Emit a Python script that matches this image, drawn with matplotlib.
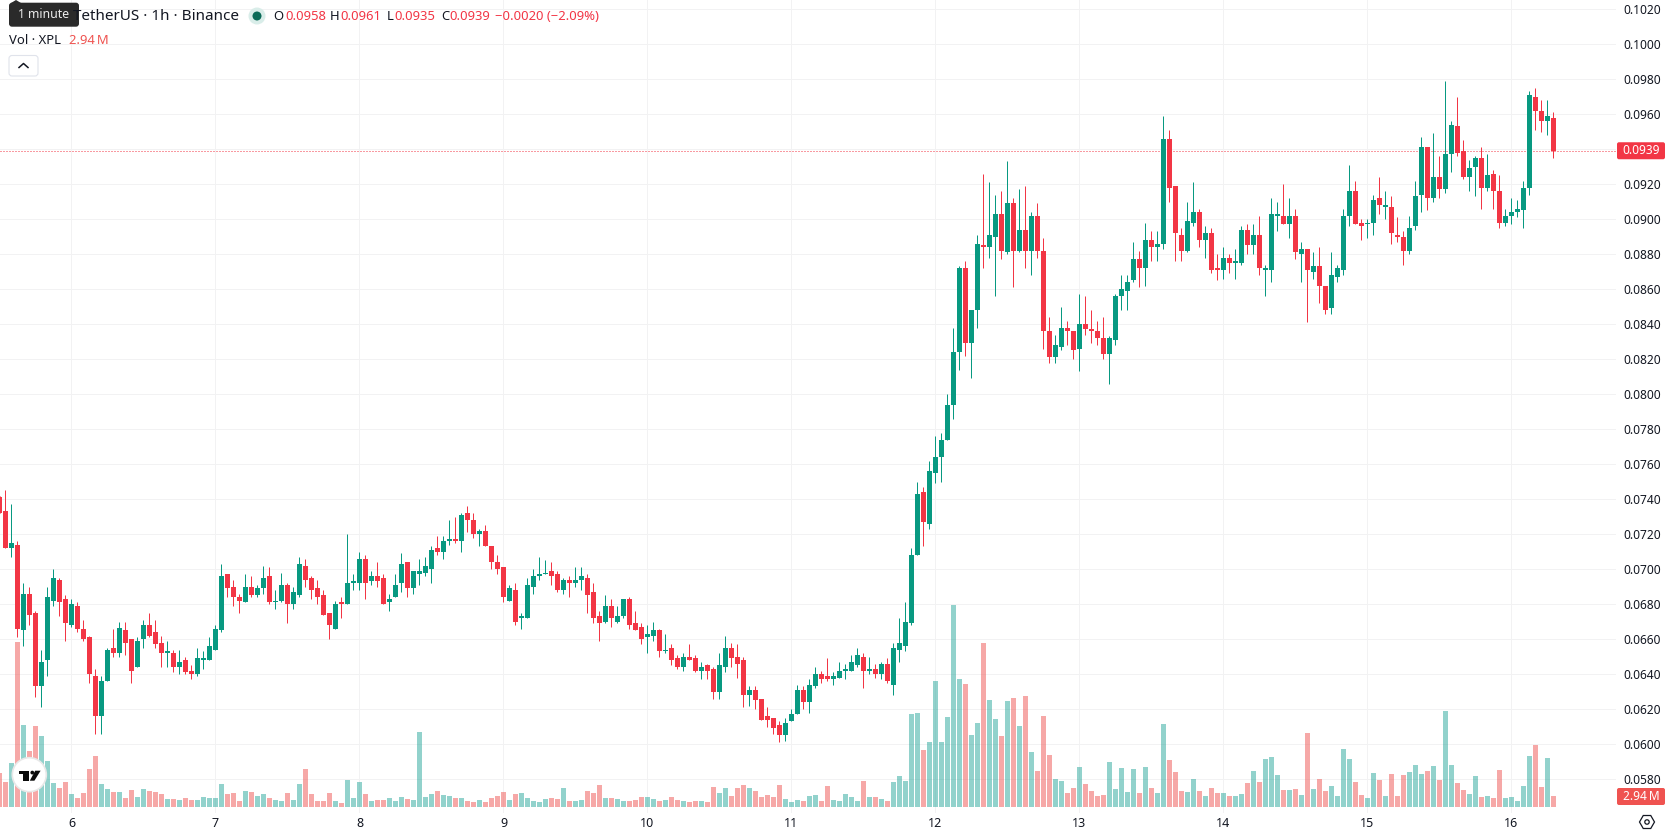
import numpy as np
import matplotlib
matplotlib.use("Agg")
import matplotlib.pyplot as plt
from matplotlib.patches import Circle, FancyBboxPatch, Polygon

# hourly XPL/USDT candles, prices in 1e-4 USDT
opens = [741,733,712,714,665,686,675,633,648,682,694,683,668,679,666,661,639,616,636,655,
         652,665,660,644,660,668,664,658,652,652,644,648,642,640,648,648,654,665,697,690,
         684,681,690,685,689,696,681,682,691,680,685,702,695,689,685,675,666,681,680,692,
         692,706,693,696,695,681,684,692,704,689,697,698,700,712,710,716,717,716,732,728,
         720,722,713,704,701,682,688,672,672,690,696,697,699,697,688,694,692,694,695,687,
         673,670,679,670,673,683,669,667,661,662,665,653,655,649,644,650,649,642,645,643,
         630,644,655,650,648,628,631,626,616,615,611,605,613,617,631,624,633,640,639,637,
         638,642,642,645,650,642,643,640,646,634,654,656,669,708,744,726,755,764,774,794,
         824,872,829,848,885,884,890,903,881,909,882,894,882,902,882,836,821,827,838,836,
         826,840,837,836,832,823,831,856,859,865,877,872,888,884,886,946,919,891,882,898,
         904,888,892,872,871,878,875,875,894,885,891,871,871,902,902,897,902,880,883,870,
         873,862,849,867,871,902,916,898,897,898,912,907,907,891,890,882,896,914,941,912,
         924,917,937,953,939,924,930,935,918,926,916,898,902,904,905,918,970,962,956,958]
highs = [742,745,737,716,692,690,676,654,690,700,695,685,683,681,671,662,643,639,655,666,
         670,670,660,661,671,675,671,662,659,654,654,650,645,655,653,661,668,703,697,694,
         686,697,696,691,702,701,688,698,692,690,707,706,696,694,688,675,682,684,720,697,
         710,708,699,704,697,686,697,709,704,699,706,707,713,719,719,728,730,732,736,732,
         723,725,713,708,701,691,692,675,695,700,707,705,704,699,695,696,701,701,697,692,
         676,685,683,679,683,684,676,669,668,670,666,663,657,651,652,657,651,647,646,644,
         652,662,658,657,650,633,633,626,621,615,613,615,620,634,633,637,644,642,649,641,
         647,646,651,655,652,650,646,647,649,658,672,681,712,750,747,762,776,778,800,838,
         873,876,848,891,926,921,914,916,933,912,917,919,904,909,889,844,834,850,842,836,
         857,856,848,842,844,833,857,868,868,887,882,898,893,893,959,951,919,895,910,921,
         906,896,895,880,884,880,883,896,897,897,902,874,912,910,920,912,906,887,883,881,
         884,862,881,874,906,931,922,900,900,914,924,916,913,901,893,902,922,947,941,949,
         936,979,956,970,945,934,936,941,937,928,925,906,912,911,922,973,975,968,968,961]
lows = [732,712,707,661,656,668,627,621,639,679,673,659,667,664,659,635,606,606,636,650,
        650,651,635,644,655,661,655,644,644,641,640,640,637,639,643,648,654,664,684,679,
        675,681,684,684,686,680,677,681,669,677,684,690,683,680,674,660,666,672,680,688,
        688,683,691,690,680,676,684,687,684,686,691,696,692,708,706,714,715,710,721,718,
        713,713,700,697,681,682,668,666,672,686,694,697,691,687,686,684,690,688,675,669,
        659,669,667,669,672,666,665,657,652,659,650,652,645,643,642,648,641,637,637,626,
        626,641,644,638,621,622,620,614,610,606,601,602,613,617,620,618,632,635,636,634,
        638,637,642,644,632,640,638,637,635,628,647,653,668,708,713,723,749,750,774,786,
        814,822,809,838,872,878,856,877,880,861,881,872,868,878,826,818,818,825,828,820,
        813,834,829,828,820,806,828,848,848,864,861,862,876,876,883,910,876,876,881,896,
        884,878,869,865,866,869,866,874,880,880,868,856,864,893,897,889,877,864,841,866,
        852,846,846,864,868,896,897,888,889,891,903,900,886,887,874,880,894,904,905,910,
        912,915,927,936,923,916,913,906,916,906,895,896,897,901,895,914,951,950,948,935]
closes = [732,712,715,666,686,674,633,647,684,695,681,669,680,666,660,640,616,636,654,652,
          666,658,642,659,668,662,657,652,653,644,647,641,640,649,649,656,666,696,689,684,
          682,690,685,689,695,681,682,691,680,687,703,694,688,684,674,668,680,680,692,693,
          706,692,696,693,680,683,691,703,689,699,699,702,711,710,716,717,716,731,728,720,
          722,713,704,700,684,689,670,673,691,696,697,698,696,688,694,692,694,696,685,672,
          669,679,672,673,683,668,665,660,663,665,653,654,648,644,650,648,642,644,642,630,
          645,655,649,646,628,631,625,614,614,609,605,612,617,631,624,634,640,637,637,639,
          642,643,647,651,642,643,640,646,636,655,658,670,708,743,727,756,764,774,794,824,
          872,829,848,886,884,891,903,882,909,882,894,882,902,882,836,821,828,838,836,825,
          840,837,836,832,823,832,856,860,864,877,872,888,884,886,946,918,892,882,899,904,
          888,892,871,871,878,875,876,894,885,891,872,872,903,903,897,902,881,883,871,873,
          862,848,868,872,902,916,897,896,898,911,908,908,892,890,882,895,913,941,912,924,
          917,937,954,938,924,929,935,918,925,916,898,902,904,906,918,971,962,956,959,939]

# volume per candle, millions of XPL
volumes = [9.1,6.7,11.8,44.1,21.9,15.0,21.7,19.0,12.3,6.4,
           5.1,6.7,3.5,2.4,3.7,10.2,13.6,6.1,4.8,4.0,
           4.0,2.4,4.5,2.7,4.8,4.3,4.0,3.5,2.1,2.1,
           1.9,2.4,1.9,1.9,2.7,2.4,2.4,6.1,3.5,3.7,
           1.6,4.3,4.0,2.9,3.5,2.4,1.9,1.6,3.7,1.9,
           6.1,10.2,3.5,1.6,1.6,3.7,1.6,1.1,7.2,2.4,
           6.7,3.5,1.6,1.9,1.9,2.4,1.6,2.7,2.1,1.9,
           20.1,2.7,3.5,4.3,3.2,2.9,2.4,2.4,1.6,1.3,
           1.9,1.3,2.4,2.9,4.0,1.9,3.5,3.7,2.4,1.6,
           1.3,2.1,2.4,2.1,5.1,1.6,1.6,1.9,4.3,3.7,
           5.9,2.4,2.4,2.1,1.6,1.6,1.9,2.7,2.7,2.1,
           1.6,1.9,2.7,1.9,1.6,1.3,1.6,1.6,1.3,5.3,
           3.7,5.1,2.9,5.1,5.9,5.1,4.3,2.7,3.2,2.7,
           5.9,2.1,1.3,1.9,1.6,2.9,3.2,1.6,5.6,1.9,
           1.6,3.5,2.7,1.6,7.0,2.7,2.7,2.1,1.6,6.7,
           8.3,7.0,24.9,25.1,15.2,17.4,33.7,17.4,24.1,54.0,
           34.2,32.9,19.3,22.5,43.9,28.6,23.5,19.0,28.3,29.1,
           21.7,29.7,14.7,9.6,24.3,13.9,7.5,7.0,3.7,5.1,
           10.7,6.1,4.3,2.9,3.2,12.0,4.8,10.4,4.0,10.2,
           3.7,10.7,5.1,3.7,22.2,12.6,9.4,4.3,4.0,7.5,
           4.3,2.9,5.1,3.7,3.7,2.9,2.9,3.5,6.4,9.6,
           6.7,12.8,13.4,8.6,4.5,4.5,4.8,3.2,19.8,4.8,
           7.5,4.3,5.6,2.9,15.5,12.8,6.7,3.2,2.4,9.1,
           7.2,2.9,8.8,2.9,8.6,9.4,11.2,8.8,9.6,11.0,
           7.2,25.7,11.2,6.4,4.5,3.5,8.3,2.7,2.9,2.4,
           9.9,2.4,2.7,1.6,5.6,13.6,16.6,5.3,13.1,2.94]

# the first candle is 12:00 on the 5th, so each day starts 24 candles apart
day_labels = ["6", "7", "8", "9", "10", "11", "12", "13", "14", "15", "16"]
bold_days = ["8", "15"]
price_ticks = [0.0580, 0.0600, 0.0620, 0.0640, 0.0660, 0.0680, 0.0700, 0.0720, 0.0740, 0.0760, 0.0780,
               0.0800, 0.0820, 0.0840, 0.0860, 0.0880, 0.0900, 0.0920, 0.0940, 0.0960, 0.0980, 0.1000, 0.1020]

GREEN = "#089981"
RED = "#F23645"
VOL_GREEN = "#26a69a"
VOL_RED = "#ef5350"
GRID = "#f2f2f3"
INK = "#131722"
FONT = "Noto Sans"

WIDTH, HEIGHT = 1678, 835
PANE_W, PANE_H = 1616, 813
PX_PER_PRICE = 17500.0   # pane pixels per 1 USDT
PX_PER_MILLION = 3.74    # pane pixels per 1M volume
VOL_BASE_Y = 807

plt.rcParams["font.family"] = [FONT, "DejaVu Sans"]

o = np.array(opens) / 10000
h = np.array(highs) / 10000
l = np.array(lows) / 10000
c = np.array(closes) / 10000
v = np.array(volumes)
idx = np.arange(len(o))
up = c >= o

fig = plt.figure(figsize=(WIDTH / 100, HEIGHT / 100), dpi=100)
ax = fig.add_axes([0, (HEIGHT - PANE_H) / HEIGHT, PANE_W / WIDTH, PANE_H / HEIGHT])

# price axes
ax.set_xlim(0.5 / 6, (PANE_W + 0.5) / 6)
ax.set_ylim(0.1 - (PANE_H - 44) / PX_PER_PRICE, 0.1 + 44 / PX_PER_PRICE)
for s in ax.spines.values():
  s.set_visible(False)
ax.set_axisbelow(True)
ax.grid(True, color=GRID, linewidth=0.72)

# last price line goes behind the candles
ax.axhline(c[-1], color=RED, linewidth=0.72, linestyle=(0, (1, 2)), zorder=1.5)

# wicks and bodies, a doji still gets one pixel of body
colors = [GREEN if u else RED for u in up]
wicks = ax.vlines(idx, l, h, colors=colors, linewidth=0.72, zorder=2)
wicks.set_snap(True)
body_low = np.minimum(o, c)
body_high = np.maximum(o, c)
body_h = np.maximum(body_high - body_low, 1 / PX_PER_PRICE)
ax.bar(idx, body_h, bottom=body_low, width=5 / 6, color=colors, linewidth=0, zorder=3)

# volume sits on its own scale along the bottom of the pane
ax_vol = ax.twinx()
ax_vol.set_ylim((VOL_BASE_Y - PANE_H) / PX_PER_MILLION, VOL_BASE_Y / PX_PER_MILLION)
ax_vol.axis("off")
vol_colors = [VOL_GREEN if u else VOL_RED for u in up]
ax_vol.bar(idx, v, width=5 / 6, color=vol_colors, alpha=0.5, linewidth=0)

# twinx moves the price ticks to the left, so set them up after it
day_pos = [12 + 24 * i for i in range(len(day_labels))]
ax.set_xticks(day_pos)
ax.set_xticklabels(day_labels, fontsize=9, color=INK)
for t, name in zip(ax.get_xticklabels(), day_labels):
  if name in bold_days:
    t.set_fontweight("bold")
ax.set_yticks(price_ticks)
ax.set_yticklabels(["%.4f" % p for p in price_ticks], fontsize=8.6, color=INK)
ax.yaxis.tick_right()
ax.tick_params(axis="both", length=0)
ax.tick_params(axis="x", pad=3)
ax.tick_params(axis="y", pad=5.5)

# header, badges and logo are laid out in screen pixels
ui = fig.add_axes([0, 0, 1, 1], zorder=10)
ui.set_xlim(0, WIDTH)
ui.set_ylim(HEIGHT, 0)
ui.axis("off")


def box(x0, y0, x1, y1, face, edge="none", r=2.0, lw=0):
  ui.add_patch(FancyBboxPatch((x0 + r, y0 + r), x1 - x0 - 2 * r, y1 - y0 - 2 * r,
                              boxstyle="round,pad=%f,rounding_size=%f" % (r, r),
                              facecolor=face, edgecolor=edge, linewidth=lw))


# title row
ui.text(239, 16, "TetherUS \u00b7 1h \u00b7 Binance", fontsize=11.0, color=INK, ha="right", va="center")
ui.add_patch(Circle((257, 16), 8.5, facecolor="#d9ede9", edgecolor="none"))
ui.add_patch(Circle((257, 16), 4.5, facecolor="#0b6b58", edgecolor="none"))

# the change is measured against the previous close
change = c[-1] - c[-2]
pct = change / c[-2] * 100
text_y = 16
for x, letter in [(273, "O"), (330, "H"), (387, "L"), (441, "C")]:
  ui.text(x, text_y, letter, fontsize=9.4, color=INK, ha="left", va="center")
ui.text(285, text_y, "%.4f" % o[-1], fontsize=9.4, color=RED, va="center")
ui.text(340, text_y, "%.4f" % h[-1], fontsize=9.4, color=RED, va="center")
ui.text(394, text_y, "%.4f" % l[-1], fontsize=9.4, color=RED, va="center")
ui.text(449, text_y, "%.4f" % c[-1], fontsize=9.4, color=RED, va="center")
ui.text(495, text_y, "\u2212%.4f (\u2212%.2f%%)" % (abs(change), abs(pct)), fontsize=9.4, color=RED, va="center")

# volume row
ui.text(9, 40.5, "Vol \u00b7 XPL", fontsize=9.4, color=INK, va="center")
ui.text(69, 40.5, "%.2f\u2009M" % v[-1], fontsize=9.4, color=VOL_RED, va="center")

# collapse button
box(9, 55.5, 38, 76, "white", edge="#e0e3eb", r=3, lw=0.8)
ui.plot([19, 23.5, 28], [67.5, 63.5, 67.5], color=INK, linewidth=1.1)

# hover tooltip over the title
ui.add_patch(Polygon([[11, 3], [16, 0], [21, 3]], facecolor="#2a2a2a", edgecolor="none"))
box(9, 2.7, 79, 26.7, "#2a2a2a", r=3)
ui.text(43.5, 15, "1 minute", fontsize=8.8, color="#ececec", ha="center", va="center")

# badges on the price scale
py = 44 + (0.1 - c[-1]) * PX_PER_PRICE
box(1617, py - 8.5, 1665, py + 8.5, RED, r=2)
ui.text(1641, py, "%.4f" % c[-1], fontsize=8.6, color="white", ha="center", va="center")
box(1617, 788, 1665, 805, VOL_RED, r=2)
ui.text(1641, 796.5, "%.2f\u2009M" % v[-1], fontsize=8.6, color="white", ha="center", va="center")

# logo
ui.add_patch(Circle((29.3, 774.7), 17, facecolor="white", edgecolor="#e8e8e8", linewidth=1.2))
ui.add_patch(Polygon([[19, 770.7], [29.3, 770.7], [29.3, 780.7], [23.3, 780.7], [23.3, 774.2], [19, 774.2]],
                     facecolor="#0a0a0a", edgecolor="none"))
ui.add_patch(Circle((32.3, 772.6), 1.9, facecolor="#0a0a0a", edgecolor="none"))
ui.add_patch(Polygon([[35.2, 770.7], [40.6, 770.7], [34.4, 780.7], [29.8, 780.7]], facecolor="#0a0a0a", edgecolor="none"))

# settings icon
a = np.deg2rad(np.arange(0, 360, 60))
ui.add_patch(Polygon(np.c_[1647 + 7.5 * np.cos(a), 822 + 7.5 * np.sin(a)], closed=True,
                     facecolor="white", edgecolor=INK, linewidth=0.9))
ui.add_patch(Circle((1647, 822), 2.2, facecolor="white", edgecolor=INK, linewidth=0.9))

plt.savefig("out.png", dpi=100, facecolor="white")
